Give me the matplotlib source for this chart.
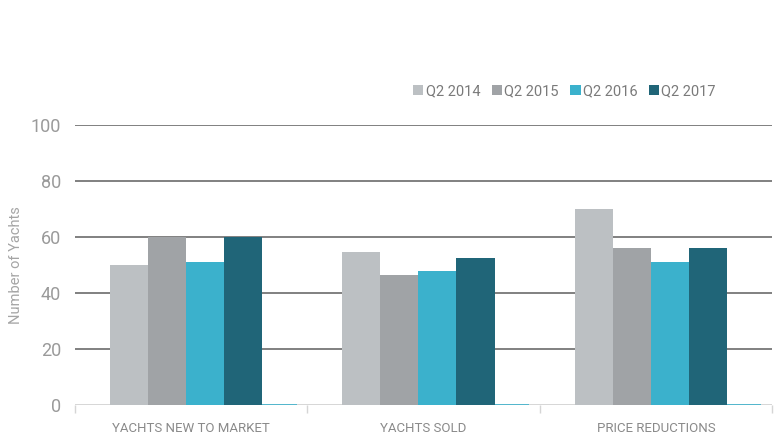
import numpy as np
import matplotlib
matplotlib.use("Agg")
import matplotlib.pyplot as plt

plt.rcParams['font.family'] = ['Roboto', 'DejaVu Sans']

categories = ["YACHTS NEW TO MARKET", "YACHTS SOLD", "PRICE REDUCTIONS"]
series_names = ["Q2 2014", "Q2 2015", "Q2 2016", "Q2 2017"]
values = {
    "Q2 2014": [50, 54.5, 70],
    "Q2 2015": [60, 46.5, 56],
    "Q2 2016": [51, 48, 51],
    "Q2 2017": [60, 52.5, 56],
}
colors = ["#bcc0c3", "#a0a3a6", "#3bb1cc", "#206578"]

fig = plt.figure(figsize=(7.76, 4.41), dpi=100)
ax = fig.add_axes([75 / 776, 36 / 441, 697 / 776, 280 / 441])

x = np.arange(len(categories))
w = 0.164
start = -0.35
for i, name in enumerate(series_names):
    ax.bar(x + start + i * w, values[name], width=w, align='edge',
           color=colors[i], label=name, zorder=3)
# empty fifth slot drawn as a thin baseline stroke
ax.hlines([0] * len(x), x + start + 4 * w, x + start + 4.9 * w,
          color="#3bb1cc", lw=1.2, zorder=4)

ax.set_xlim(-0.5, 2.5)
ax.set_ylim(0, 100)
ax.set_yticks([0, 20, 40, 60, 80, 100])
for yv in [20, 40, 60, 80, 100]:
    ax.axhline(yv, color="#6b6b6b", lw=1.2, zorder=1)
ax.axhline(0, color="#cfcfcf", lw=1.2, zorder=2)

for s in ax.spines.values():
    s.set_visible(False)
ax.tick_params(axis='y', length=0, pad=10, labelsize=13, labelcolor="#9a9a9a")
ax.set_xticks(x)
ax.set_xticklabels(categories, fontsize=9.5, color="#8a8a8a")
ax.tick_params(axis='x', length=0, pad=12)
ax.set_xticks([-0.5, 0.5, 1.5, 2.5], minor=True)
ax.tick_params(axis='x', which='minor', length=6, color="#d5d5d5", width=1)

ax.set_ylabel("Number of Yachts", fontsize=10.5, color="#a5a5a5")
ax.yaxis.set_label_coords(-52 / 697, 0.5)

leg = fig.legend(loc='center left', bbox_to_anchor=(400 / 776, 1 - 91 / 441),
                 ncol=4, frameon=False, fontsize=10.5, handlelength=0.7,
                 handleheight=0.7, handletextpad=0.15, columnspacing=0.8)
for t in leg.get_texts():
    t.set_color("#7a7a7a")

fig.savefig("out.png", dpi=100)
